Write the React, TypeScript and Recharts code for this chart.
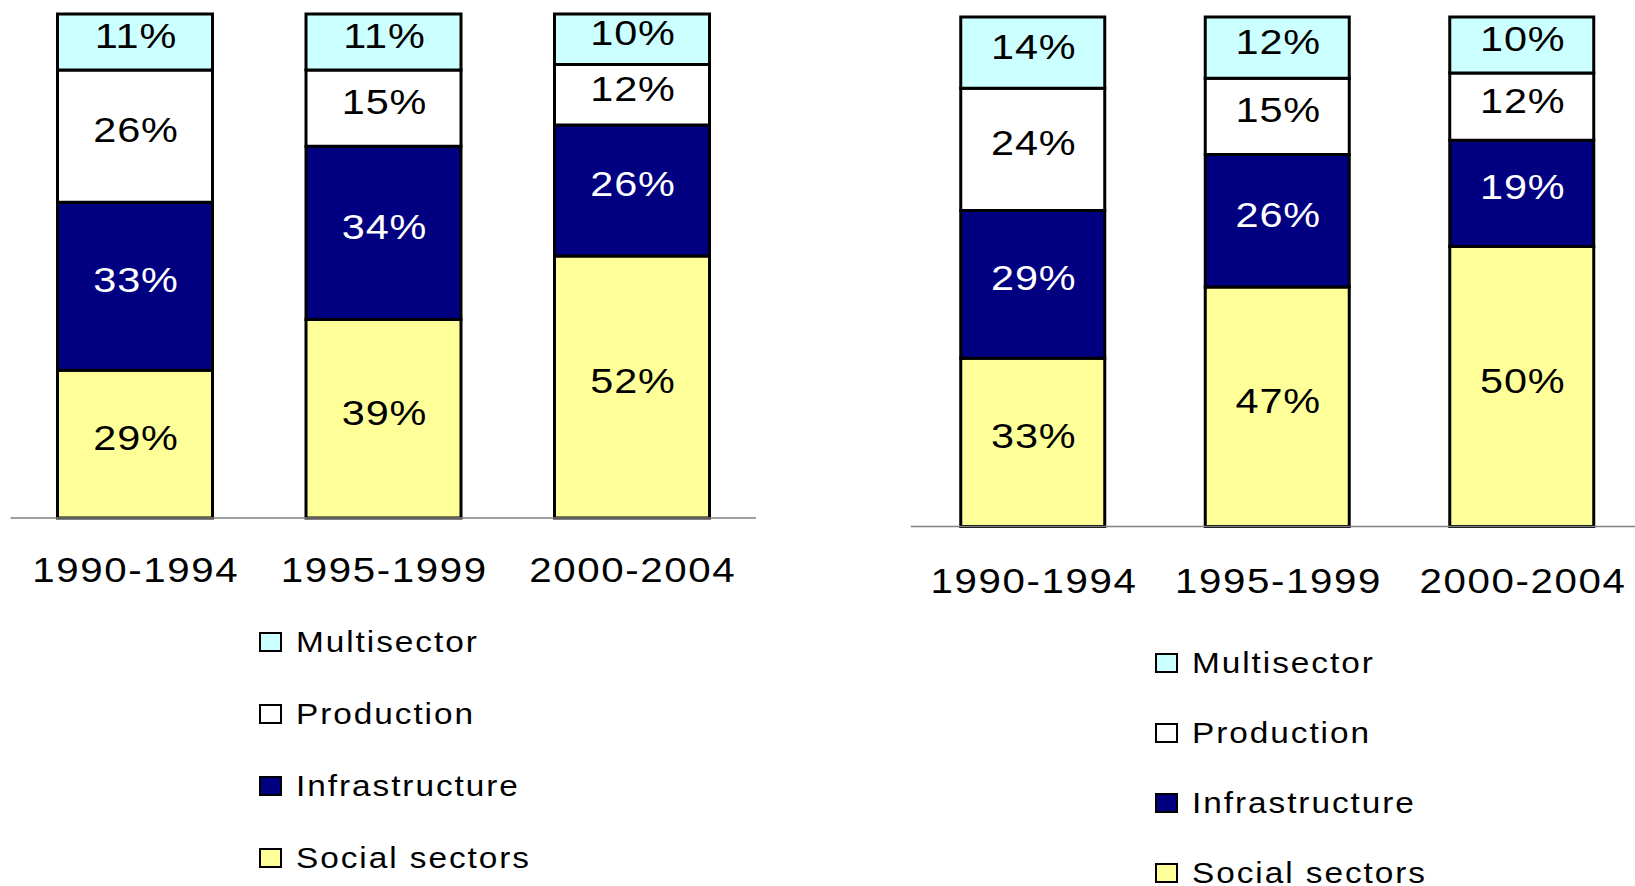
import React from 'react';
import { BarChart, Bar, XAxis, YAxis, Legend, LabelList } from 'recharts';

const periods = ['1990-1994', '1995-1999', '2000-2004'];

// left panel (%)
const leftSocial = [29, 39, 52];
const leftInfra = [33, 34, 26];
const leftProd = [26, 15, 12];
const leftMulti = [11, 11, 10];

// right panel (%)
const rightSocial = [33, 47, 50];
const rightInfra = [29, 26, 19];
const rightProd = [24, 15, 12];
const rightMulti = [14, 12, 10];

const seriesKeys = ['social', 'infra', 'prod', 'multi'];
const seriesNames = ['Social sectors', 'Infrastructure', 'Production', 'Multisector'];
const seriesColors = ['#FFFF99', '#000080', '#FFFFFF', '#CCFFFF'];
const labelColors = ['#000000', '#FFFFFF', '#000000', '#000000'];

const FONT = "'Liberation Sans', Arial, sans-serif";
// the source text looks horizontally stretched
const STRETCH = 1.15;

const buildRows = (social: number[], infra: number[], prod: number[], multi: number[]) =>
  periods.map((p, i) => ({ period: p, social: social[i], infra: infra[i], prod: prod[i], multi: multi[i] }));

const leftRows = buildRows(leftSocial, leftInfra, leftProd, leftMulti);
const rightRows = buildRows(rightSocial, rightInfra, rightProd, rightMulti);

const segLabel = (color: string) => (props: any) => {
  const vb = props.viewBox || props;
  const cx = vb.x + vb.width / 2;
  const cy = vb.y + vb.height / 2;
  return (
    <text
      transform={`translate(${cx + 1} ${cy + 6}) scale(${STRETCH} 1)`}
      textAnchor="middle"
      fill={color}
      fontSize={36}
      letterSpacing={0.8}
      fontFamily={FONT}
    >
      {props.value}%
    </text>
  );
};

const makeTick = (offset: number) => (props: any) => (
  <text
    transform={`translate(${props.x + 1} ${props.y + offset}) scale(${STRETCH} 1)`}
    textAnchor="middle"
    fontSize={35}
    letterSpacing={1.4}
    fontFamily={FONT}
    fill="#000"
  >
    {props.payload.value}
  </text>
);

const makeLegend = (rowH: number) => (props: any) => {
  const items = [...(props.payload || [])].sort(
    (a: any, b: any) => seriesNames.indexOf(b.value) - seriesNames.indexOf(a.value)
  );
  return (
    <div>
      {items.map((it: any) => (
        <div key={it.value} style={{ height: rowH, display: 'flex', alignItems: 'center' }}>
          <span style={{ width: 23, height: 20, boxSizing: 'border-box', border: '2.5px solid #000', background: it.color, marginRight: 14, flex: 'none' }} />
          <span
            style={{
              display: 'inline-block',
              fontSize: 29,
              letterSpacing: 1.7,
              fontFamily: FONT,
              color: '#000',
              lineHeight: 1,
              whiteSpace: 'nowrap',
              transform: `scaleX(${STRETCH})`,
              transformOrigin: 'left center',
            }}
          >
            {it.value}
          </span>
        </div>
      ))}
    </div>
  );
};

type PanelProps = {
  rows: any[];
  left: number;
  width: number;
  margin: { top: number; right: number; bottom: number; left: number };
  barSize: number;
  tickOffset: number;
  legendPos: { left: number; top: number };
  rowH: number;
};

const Panel: React.FC<PanelProps> = ({ rows, left, width, margin, barSize, tickOffset, legendPos, rowH }) => (
  <div style={{ position: 'absolute', left, top: 0 }}>
    <BarChart width={width} height={886} data={rows} margin={margin} stackOffset="expand" barSize={barSize}>
      <XAxis
        dataKey="period"
        axisLine={{ stroke: '#808080', strokeWidth: 1.5 }}
        tickLine={false}
        tickSize={0}
        tickMargin={0}
        height={60}
        interval={0}
        tick={makeTick(tickOffset)}
      />
      <YAxis hide domain={[0, 1]} />
      <Legend
        layout="vertical"
        align="center"
        verticalAlign="middle"
        content={makeLegend(rowH)}
        wrapperStyle={{ left: legendPos.left, top: legendPos.top, width: 420 }}
      />
      {seriesKeys.map((k, i) => (
        <Bar
          key={k}
          dataKey={k}
          name={seriesNames[i]}
          stackId="a"
          fill={seriesColors[i]}
          stroke="#000"
          strokeWidth={3}
          isAnimationActive={false}
        >
          <LabelList dataKey={k} content={segLabel(labelColors[i])} />
        </Bar>
      ))}
    </BarChart>
  </div>
);

export default function App() {
  return (
    <div style={{ position: 'absolute', left: 0, top: 0, width: 1635, height: 886, overflow: 'hidden', background: '#fff' }}>
      <Panel
        rows={leftRows}
        left={0}
        width={770}
        margin={{ top: 14, right: 14, bottom: 308, left: 10.5 }}
        barSize={155}
        tickOffset={63.5}
        legendPos={{ left: 259, top: 606 }}
        rowH={72}
      />
      <Panel
        rows={rightRows}
        left={900}
        width={760}
        margin={{ top: 17, right: 15.75, bottom: 299.5, left: 10.75 }}
        barSize={144}
        tickOffset={66}
        legendPos={{ left: 255, top: 628 }}
        rowH={70}
      />
    </div>
  );
}
